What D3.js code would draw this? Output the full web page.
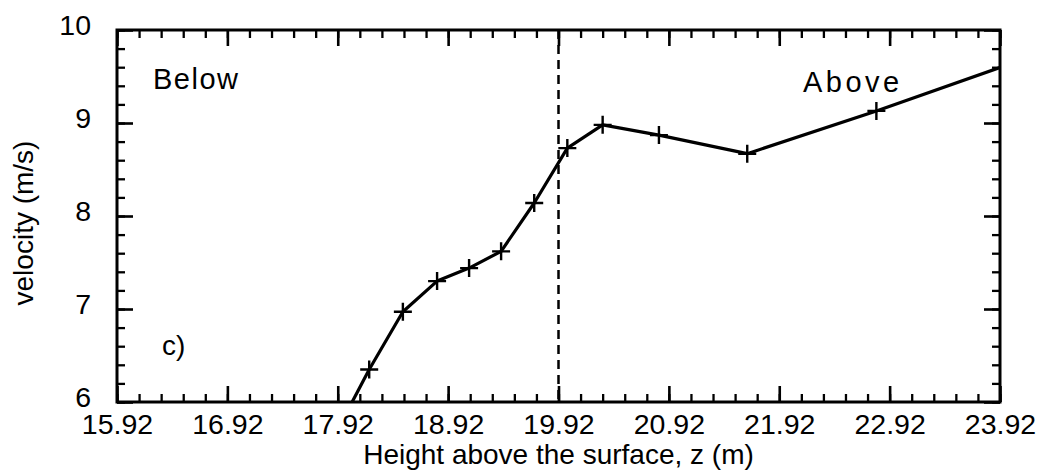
<!DOCTYPE html>
<html>
<head>
<meta charset="utf-8">
<script src="https://cdn.jsdelivr.net/npm/d3@7"></script>
<style>
  body { margin: 0; background: #fff; }
  svg text { font-family: "Liberation Sans", Arial, Helvetica, sans-serif; fill: #000; }
</style>
</head>
<body>
<div id="chart"></div>
<script>
// measured profile: height (m) vs velocity (m/s)
const heights = [17.90, 18.205, 18.51, 18.82, 19.11, 19.40, 19.70, 20.00, 20.32, 20.83, 21.63, 22.80, 24.12];
const velocity = [5.66, 6.35, 6.97, 7.30, 7.44, 7.62, 8.14, 8.73, 8.98, 8.87, 8.67, 9.13, 9.68];

const xTicks = [15.92, 16.92, 17.92, 18.92, 19.92, 20.92, 21.92, 22.92, 23.92];
const yTicks = [6, 7, 8, 9, 10];
const surfaceZ = 19.92;

const width = 1050, height = 473;
const margin = {top: 30, right: 50, bottom: 71, left: 117};
const w = width - margin.left - margin.right;
const h = height - margin.top - margin.bottom;

const svg = d3.select("#chart").append("svg")
  .attr("width", width)
  .attr("height", height);

const g = svg.append("g")
  .attr("transform", "translate(" + margin.left + "," + margin.top + ")");

const x = d3.scaleLinear().domain([15.92, 23.92]).range([0, w]);
const y = d3.scaleLinear().domain([6, 10]).range([h, 0]);

const xMinor = d3.range(0, 41).map(i => 15.92 + i * 0.2);
const yMinor = d3.range(0, 21).map(i => 6 + i * 0.2);

g.append("clipPath").attr("id", "plot-clip")
  .append("rect").attr("width", w).attr("height", h);

// minor ticks on all four sides
function minor(axis, tr) {
  g.append("g").attr("class", "minor").attr("transform", tr)
    .call(axis.tickSize(-8).tickFormat(""));
}
minor(d3.axisBottom(x).tickValues(xMinor), "translate(0," + h + ")");
minor(d3.axisTop(x).tickValues(xMinor), "translate(0,0)");
minor(d3.axisLeft(y).tickValues(yMinor), "translate(0,0)");
minor(d3.axisRight(y).tickValues(yMinor), "translate(" + w + ",0)");

// major ticks
g.append("g").attr("class", "major").attr("transform", "translate(0," + h + ")")
  .call(d3.axisBottom(x).tickValues(xTicks).tickSize(-16).tickPadding(12).tickFormat(d3.format(".2f")));
g.append("g").attr("class", "major")
  .call(d3.axisTop(x).tickValues(xTicks).tickSize(-16).tickFormat(""));
g.append("g").attr("class", "major ylab")
  .call(d3.axisLeft(y).tickValues(yTicks).tickSize(-16).tickPadding(26).tickFormat(d3.format("d")));
g.append("g").attr("class", "major").attr("transform", "translate(" + w + ",0)")
  .call(d3.axisRight(y).tickValues(yTicks).tickSize(-16).tickFormat(""));

g.selectAll(".domain").remove();
g.selectAll(".minor line").attr("stroke", "#000").attr("stroke-width", 2.3);
g.selectAll(".major line").attr("stroke", "#000").attr("stroke-width", 2.6);
g.selectAll(".major text").attr("font-size", 28.5).style("font-family", null);
g.selectAll(".ylab text").attr("dy", "0.17em");

// frame
g.append("rect")
  .attr("width", w).attr("height", h)
  .attr("fill", "none").attr("stroke", "#000").attr("stroke-width", 3);

// surface line
g.append("line")
  .attr("x1", x(surfaceZ)).attr("x2", x(surfaceZ))
  .attr("y1", 0).attr("y2", h)
  .attr("stroke", "#000").attr("stroke-width", 2.5)
  .attr("stroke-dasharray", "9,6");

const pts = heights.map((z, i) => [z, velocity[i]]);

const plot = g.append("g").attr("clip-path", "url(#plot-clip)");

plot.append("path")
  .datum(pts)
  .attr("fill", "none")
  .attr("stroke", "#000")
  .attr("stroke-width", 3.2)
  .attr("stroke-linejoin", "round")
  .attr("d", d3.line().x(d => x(d[0])).y(d => y(d[1])));

plot.selectAll("path.mark")
  .data(pts)
  .enter().append("path")
  .attr("class", "mark")
  .attr("transform", d => "translate(" + x(d[0]) + "," + y(d[1]) + ")")
  .attr("d", "M-9,0H9M0,-9V9")
  .attr("stroke", "#000")
  .attr("stroke-width", 2.4);

// labels
g.append("text").attr("x", 36).attr("y", 59).attr("font-size", 29)
  .attr("letter-spacing", 1.5).text("Below");
g.append("text").attr("x", 686).attr("y", 62).attr("font-size", 29)
  .attr("letter-spacing", 3.5).text("Above");
g.append("text").attr("x", 45).attr("y", 325).attr("font-size", 28).text("c)");

svg.append("text")
  .attr("x", margin.left + w / 2).attr("y", 464)
  .attr("text-anchor", "middle").attr("font-size", 28)
  .text("Height above the surface, z (m)");

svg.append("text")
  .attr("transform", "translate(33,223) rotate(-90)")
  .attr("text-anchor", "middle").attr("font-size", 28)
  .text("velocity (m/s)");
</script>
</body>
</html>
